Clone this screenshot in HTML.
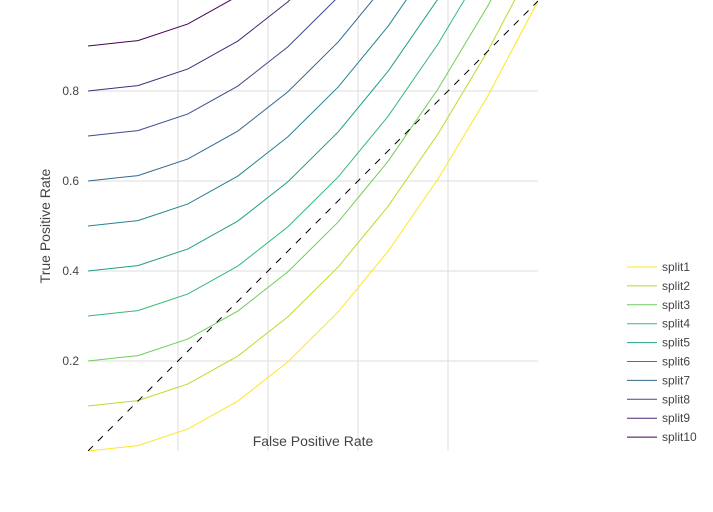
<!DOCTYPE html>
<html><head><meta charset="utf-8"><style>
body{margin:0;background:#fff;font-family:"Liberation Sans","DejaVu Sans",sans-serif}
svg text{font-family:"Liberation Sans","DejaVu Sans",sans-serif;fill:#444}
</style></head><body>
<svg id="chart" width="713" height="507">
<defs><clipPath id="pc"><rect x="88" y="0" width="450" height="451"/></clipPath></defs>
<g id="grid"></g>
<g id="yticks"></g>
<g id="series" clip-path="url(#pc)"></g>
<text x="313" y="446" font-size="14" text-anchor="middle">False Positive Rate</text>
<text transform="translate(50,226) rotate(-90)" font-size="14" text-anchor="middle">True Positive Rate</text>
<g id="legend"></g>
</svg>
<script>
const fpr=[0,0.111,0.222,0.333,0.444,0.556,0.667,0.778,0.889,1];
const split1=[0,0.012,0.049,0.111,0.198,0.309,0.444,0.605,0.790,1];
const split2=[0.1,0.112,0.149,0.211,0.298,0.409,0.544,0.705,0.890,1.1];
const split3=[0.2,0.212,0.249,0.311,0.398,0.509,0.644,0.805,0.990,1.2];
const split4=[0.3,0.312,0.349,0.411,0.498,0.609,0.744,0.905,1.09,1.3];
const split5=[0.4,0.412,0.449,0.511,0.598,0.709,0.844,1.005,1.19,1.4];
const split6=[0.5,0.512,0.549,0.611,0.698,0.809,0.944,1.105,1.29,1.5];
const split7=[0.6,0.612,0.649,0.711,0.798,0.909,1.044,1.205,1.39,1.6];
const split8=[0.7,0.712,0.749,0.811,0.898,1.009,1.144,1.305,1.49,1.7];
const split9=[0.8,0.812,0.849,0.911,0.998,1.109,1.244,1.405,1.59,1.8];
const split10=[0.9,0.912,0.949,1.011,1.098,1.209,1.344,1.505,1.69,1.9];
const seriesNames=["split1","split2","split3","split4","split5","split6","split7","split8","split9","split10"];
const yTicks=[0.2,0.4,0.6,0.8];
const xTicks=[0.2,0.4,0.6,0.8];
const allSeries=[split1,split2,split3,split4,split5,split6,split7,split8,split9,split10];
const colors=["#fde725","#b5de2b","#6ece58","#35b779","#1f9e89","#26828e","#31688e","#3e4989","#482878","#440154"];
const NS="http://www.w3.org/2000/svg";
const X=v=>88+v*450, Y=v=>451-v*450;
function mk(t,a,p){const e=document.createElementNS(NS,t);for(const k in a)e.setAttribute(k,a[k]);p.appendChild(e);return e;}
const grid=document.getElementById('grid');
xTicks.forEach(t=>{const l=mk('line',{x1:X(t),x2:X(t),y1:0,y2:451,stroke:'#ddd','stroke-width':1},grid);

});
const yt=document.getElementById('yticks');
yTicks.forEach(t=>{const l=mk('line',{x1:88,x2:538,y1:Y(t),y2:Y(t),stroke:'#ddd','stroke-width':1},grid);


const tx=mk('text',{x:79,y:Y(t)+4,'font-size':12,'text-anchor':'end'},yt);tx.textContent=t.toFixed(1);

});
const sg=document.getElementById('series');
const lg=document.getElementById('legend');
allSeries.forEach((s,i)=>{
 const p=mk('polyline',{points:s.map((v,j)=>X(fpr[j])+','+Y(v)).join(' '),fill:'none',stroke:colors[i],'stroke-width':1},sg);
 
 
 const yy=267+i*18.9;
 const g=mk('g',{},lg);
 
 
 mk('line',{x1:627,x2:657,y1:yy,y2:yy,stroke:colors[i],'stroke-width':1},g);
 const t=mk('text',{x:662,y:yy+4,'font-size':12},g);t.textContent=seriesNames[i];
});
const d=mk('line',{x1:X(0),y1:Y(0),x2:X(1),y2:Y(1),stroke:'#000','stroke-width':1,'stroke-dasharray':'7,7'},sg);


</script>
</body></html>
